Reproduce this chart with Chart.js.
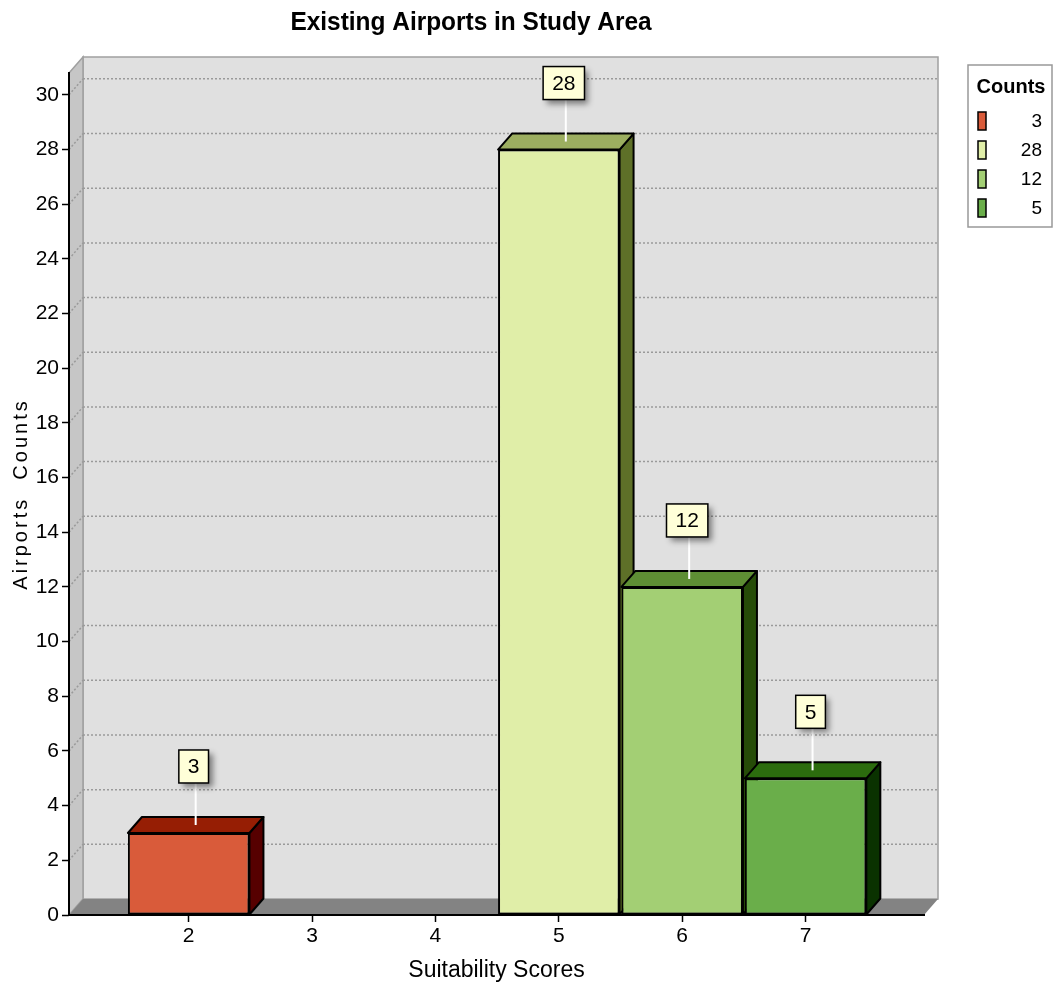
<!DOCTYPE html>
<html>
<head>
<meta charset="utf-8">
<script src="https://cdn.jsdelivr.net/npm/chart.js@4.4.0/dist/chart.umd.min.js"></script>
<style>
  html, body { margin: 0; padding: 0; background: #ffffff; }
  #wrap { width: 1053px; height: 992px; }
</style>
</head>
<body>
<div id="wrap"><canvas id="chart" width="1053" height="992"></canvas></div>
<script>
// ---- chart data ----
const chartTitle = 'Existing Airports in Study Area';
const xAxisTitle = 'Suitability Scores';
const yAxisTitle = 'Airports  Counts';
const legendTitle = 'Counts';

const scores = [2, 5, 6, 7];          // suitability score of each bar
const counts = [3, 28, 12, 5];        // airport count for each score
const xTickValues = [2, 3, 4, 5, 6, 7];
const yTickValues = [0, 2, 4, 6, 8, 10, 12, 14, 16, 18, 20, 22, 24, 26, 28, 30];

// face colours of each box: front, top (lit from above), right side (shade)
const frontColors = ['#d95b3a', '#e0eea8', '#a3cf74', '#6aae4a'];
const topColors   = ['#961e04', '#9cae60', '#5e8e34', '#2c6c0e'];
const sideColors  = ['#560000', '#5e7028', '#264c08', '#0a3200'];

// ---- look ----
const NARROW = "'Liberation Sans Narrow', 'Liberation Sans', Arial, sans-serif";
const REGULAR = "'Liberation Sans', Arial, sans-serif";
const DEPTH_X = 14;     // 3D depth offset to the right
const DEPTH_Y = 16;     // 3D depth offset upwards

Chart.defaults.font.family = NARROW;
Chart.defaults.color = '#000';

// back wall, left wall, floor and dotted grid lines
const wallsPlugin = {
  id: 'walls3d',
  beforeDraw(chart) {
    const { ctx, chartArea: a, scales } = chart;
    const dx = DEPTH_X, dy = DEPTH_Y;
    ctx.save();
    // back wall
    ctx.fillStyle = '#e0e0e0';
    ctx.fillRect(a.left + dx, a.top - dy, a.right - a.left, a.bottom - a.top);
    ctx.strokeStyle = '#a0a0a0';
    ctx.lineWidth = 1.5;
    ctx.strokeRect(a.left + dx, a.top - dy, a.right - a.left, a.bottom - a.top);
    // left wall
    ctx.beginPath();
    ctx.moveTo(a.left, a.top);
    ctx.lineTo(a.left + dx, a.top - dy);
    ctx.lineTo(a.left + dx, a.bottom - dy);
    ctx.lineTo(a.left, a.bottom);
    ctx.closePath();
    ctx.fillStyle = '#c6c6c6';
    ctx.fill();
    ctx.stroke();
    // floor
    ctx.beginPath();
    ctx.moveTo(a.left, a.bottom);
    ctx.lineTo(a.left + dx, a.bottom - dy);
    ctx.lineTo(a.right + dx, a.bottom - dy);
    ctx.lineTo(a.right, a.bottom);
    ctx.closePath();
    ctx.fillStyle = '#838383';
    ctx.fill();
    // dotted grid lines for every y tick above zero
    ctx.strokeStyle = '#9a9a9a';
    ctx.lineWidth = 1.5;
    ctx.setLineDash([2, 2]);
    scales.y.ticks.forEach(t => {
      if (t.value === 0) return;
      const y = scales.y.getPixelForValue(t.value);
      ctx.beginPath();
      ctx.moveTo(a.left, y);
      ctx.lineTo(a.left + dx, y - dy);
      ctx.moveTo(a.left + dx, y - dy);
      ctx.lineTo(a.right + dx, y - dy);
      ctx.stroke();
    });
    ctx.restore();
  }
};

// top and side faces of the boxes, drawn before the front faces
const boxesPlugin = {
  id: 'boxes3d',
  beforeDatasetsDraw(chart) {
    const { ctx } = chart;
    const dx = DEPTH_X, dy = DEPTH_Y;
    const bars = chart.getDatasetMeta(0).data;
    ctx.save();
    ctx.strokeStyle = '#000';
    ctx.lineWidth = 2;
    ctx.lineJoin = 'round';
    bars.forEach((bar, i) => {
      const p = bar.getProps(['x', 'y', 'base', 'width'], true);
      const xl = p.x - p.width / 2, xr = p.x + p.width / 2;
      // side
      ctx.beginPath();
      ctx.moveTo(xr, p.y);
      ctx.lineTo(xr + dx, p.y - dy);
      ctx.lineTo(xr + dx, p.base - dy);
      ctx.lineTo(xr, p.base);
      ctx.closePath();
      ctx.fillStyle = sideColors[i];
      ctx.fill();
      ctx.stroke();
      // top
      ctx.beginPath();
      ctx.moveTo(xl, p.y);
      ctx.lineTo(xl + dx, p.y - dy);
      ctx.lineTo(xr + dx, p.y - dy);
      ctx.lineTo(xr, p.y);
      ctx.closePath();
      ctx.fillStyle = topColors[i];
      ctx.fill();
      ctx.stroke();
    });
    ctx.restore();
  },
  // value callouts above each box
  afterDatasetsDraw(chart) {
    const { ctx } = chart;
    const dx = DEPTH_X, dy = DEPTH_Y;
    const bars = chart.getDatasetMeta(0).data;
    ctx.save();
    ctx.font = '21px ' + NARROW;
    bars.forEach((bar, i) => {
      const p = bar.getProps(['x', 'y'], true);
      const text = String(counts[i]);
      const w = ctx.measureText(text).width + 18;
      const h = 33;
      const cx = p.x + 5;
      const boxBottom = p.y - 50;
      // leader line
      ctx.strokeStyle = '#ffffff';
      ctx.lineWidth = 2;
      ctx.beginPath();
      ctx.moveTo(p.x + dx / 2, p.y - dy / 2);
      ctx.lineTo(p.x + dx / 2, boxBottom);
      ctx.stroke();
      // box with soft shadow
      ctx.save();
      ctx.shadowColor = 'rgba(0,0,0,0.45)';
      ctx.shadowBlur = 6;
      ctx.shadowOffsetX = 4;
      ctx.shadowOffsetY = 4;
      ctx.fillStyle = '#ffffd8';
      ctx.fillRect(cx - w / 2, boxBottom - h, w, h);
      ctx.restore();
      ctx.strokeStyle = '#000';
      ctx.lineWidth = 1.5;
      ctx.strokeRect(cx - w / 2, boxBottom - h, w, h);
      ctx.fillStyle = '#000';
      ctx.textAlign = 'center';
      ctx.textBaseline = 'middle';
      ctx.fillText(text, cx, boxBottom - h / 2 + 1);
    });
    ctx.restore();
  }
};

// title, rotated axis title and legend box
const textPlugin = {
  id: 'frameText',
  afterDraw(chart) {
    const { ctx, chartArea: a } = chart;
    ctx.save();
    ctx.fillStyle = '#000';
    // chart title, slightly condensed
    ctx.save();
    ctx.translate(471, 23);
    ctx.scale(0.94, 1);
    ctx.font = 'bold 26px ' + NARROW;
    ctx.textAlign = 'center';
    ctx.textBaseline = 'middle';
    ctx.fillText(chartTitle, 0, 0);
    ctx.restore();
    // y axis title
    ctx.save();
    ctx.translate(21, (a.top + a.bottom) / 2);
    ctx.rotate(-Math.PI / 2);
    ctx.font = '20px ' + REGULAR;
    ctx.textAlign = 'center';
    ctx.textBaseline = 'middle';
    if ('letterSpacing' in ctx) ctx.letterSpacing = '3px';
    ctx.fillText(yAxisTitle, 0, 0);
    ctx.restore();
    // legend
    const lx = 968, ly = 65, lw = 84, lh = 162;
    ctx.fillStyle = '#ffffff';
    ctx.fillRect(lx, ly, lw, lh);
    ctx.strokeStyle = '#999999';
    ctx.lineWidth = 1.5;
    ctx.strokeRect(lx, ly, lw, lh);
    ctx.fillStyle = '#000';
    ctx.font = 'bold 20px ' + NARROW;
    ctx.textAlign = 'center';
    ctx.textBaseline = 'middle';
    ctx.fillText(legendTitle, lx + lw / 2 + 1, ly + 22);
    ctx.font = '19px ' + NARROW;
    ctx.textAlign = 'right';
    counts.forEach((c, i) => {
      const y = ly + 56 + i * 29;
      ctx.fillStyle = frontColors[i];
      ctx.fillRect(lx + 10, y - 9, 8, 18);
      ctx.strokeStyle = '#000';
      ctx.lineWidth = 1.5;
      ctx.strokeRect(lx + 10, y - 9, 8, 18);
      ctx.fillStyle = '#000';
      ctx.fillText(String(c), lx + 74, y + 1);
    });
    ctx.restore();
  }
};

new Chart(document.getElementById('chart'), {
  type: 'bar',
  data: {
    datasets: [{
      label: legendTitle,
      data: scores.map((s, i) => ({ x: s, y: counts[i] })),
      backgroundColor: frontColors,
      borderColor: '#000',
      borderWidth: 2,
      borderSkipped: false,
      barPercentage: 0.985,
      categoryPercentage: 1
    }]
  },
  options: {
    responsive: false,
    devicePixelRatio: 1,
    animation: false,
    layout: { padding: { top: 73, right: 129, left: 0, bottom: 0 } },
    plugins: {
      legend: { display: false },
      title: { display: false },
      tooltip: { enabled: false }
    },
    scales: {
      x: {
        type: 'linear',
        min: 1.03,
        max: 7.96,
        offset: false,
        afterBuildTicks: s => { s.ticks = xTickValues.map(v => ({ value: v })); },
        afterFit: s => { s.height = 77; },
        grid: { offset: false, drawOnChartArea: false, color: '#000', tickLength: 7, tickWidth: 1.5 },
        border: { color: '#000', width: 2 },
        ticks: { font: { size: 21 }, color: '#000', padding: 2 },
        title: { display: true, text: xAxisTitle, font: { size: 23 }, color: '#000', padding: { top: 0, bottom: 8 } }
      },
      y: {
        min: 0,
        max: 30.8,
        afterBuildTicks: s => { s.ticks = yTickValues.map(v => ({ value: v })); },
        afterFit: s => { s.width = 69; },
        grid: { drawOnChartArea: false, color: '#000', tickLength: 7, tickWidth: 1.5 },
        border: { color: '#000', width: 2 },
        ticks: { font: { size: 21 }, color: '#000', padding: 3 }
      }
    }
  },
  plugins: [wallsPlugin, boxesPlugin, textPlugin]
});
</script>
</body>
</html>
